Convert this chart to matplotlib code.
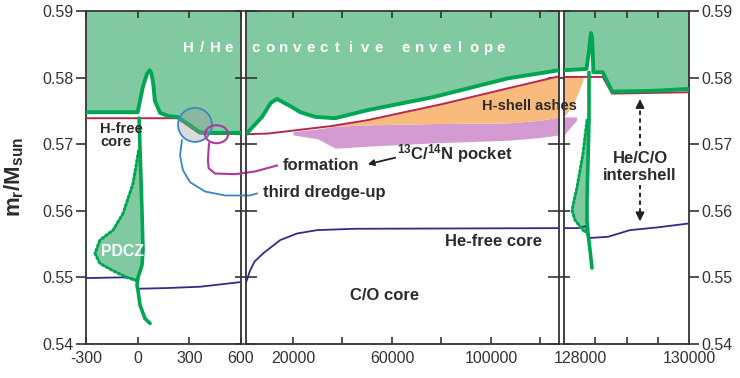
import numpy as np
import matplotlib.pyplot as plt
from matplotlib.patches import Ellipse
from matplotlib.transforms import ScaledTranslation

plt.rcParams['font.family'] = ['Liberation Sans', 'DejaVu Sans']
plt.rcParams['mathtext.fontset'] = 'custom'
plt.rcParams['mathtext.rm'] = 'Liberation Sans'
plt.rcParams['mathtext.bf'] = 'Liberation Sans:bold'
plt.rcParams['mathtext.it'] = 'Liberation Sans:italic'

# ---------------- panel 1 : around the thermal pulse ----------------
env1_x = [-300, 0, 30, 55, 70, 80, 90, 100, 130, 180, 230, 300, 360, 400, 600]
env1_y = [0.5748, 0.5748, 0.5786, 0.5806, 0.5811, 0.5806, 0.5792, 0.5765,
          0.5747, 0.5742, 0.5741, 0.5729, 0.5718, 0.5717, 0.5717]
hfree1_x = [-300, 230, 360, 600]
hfree1_y = [0.5739, 0.5739, 0.5716, 0.5715]
hefree1_x = [-300, -100, -60, -6, 2, 170, 362, 600]
hefree1_y = [0.5499, 0.5500, 0.5500, 0.5496, 0.5483, 0.5484, 0.5486, 0.5493]
pdcz1_out_x = [8, 14, 25, 31, 25, 2, -4, 2, 14, 43, 72]
pdcz1_out_y = [0.5739, 0.5691, 0.5600, 0.5541, 0.5518, 0.5500, 0.5488,
               0.5480, 0.5458, 0.5438, 0.5431]
pdcz1_in_x = [5, -17, -27, -85, -143, -219, -248, -219, -143, -62, -6]
pdcz1_in_y = [0.5690, 0.5656, 0.5641, 0.5596, 0.5571, 0.5556, 0.5536,
              0.5521, 0.5510, 0.5500, 0.5495]

# ---------------- panel 2 : interpulse ----------------
env2_x = [1000, 7500, 11000, 13500, 16000, 19000, 23000, 29000, 37000, 50000,
          77000, 107000, 127500]
env2_y = [0.5715, 0.5741, 0.5762, 0.5768, 0.5763, 0.5757, 0.5748, 0.5741,
          0.5739, 0.5751, 0.5771, 0.5799, 0.5811]
hfree2_x = [1000, 10000, 19000, 35000, 50000, 80000, 107000, 127500]
hfree2_y = [0.5715, 0.5716, 0.5720, 0.5727, 0.5736, 0.5760, 0.5784, 0.5802]
hefree2_x = [1000, 2600, 4500, 7900, 14800, 21700, 29800, 45000, 127500]
hefree2_y = [0.5492, 0.5510, 0.5524, 0.5536, 0.5556, 0.5566, 0.5571, 0.5573, 0.5574]
ashes_x = [25000, 35000, 50000, 77000, 107000, 120000, 127500]
ashes_lo = [0.5723, 0.5727, 0.5729, 0.5731, 0.5732, 0.5736, 0.5741]
pocket_x = [20000, 30000, 37000, 50000, 77000, 107000, 120000, 127500]
pocket_hi = [0.5719, 0.5723, 0.5727, 0.5729, 0.5731, 0.5732, 0.5736, 0.5741]
pocket_lo = [0.5714, 0.5708, 0.5694, 0.5697, 0.5702, 0.5706, 0.5710, 0.5714]

# ---------------- panel 3 : next pulse ----------------
env3_x = [128000, 128360, 128400, 128430, 128450, 128470, 128620, 128770, 129400, 130000]
env3_y = [0.5811, 0.5813, 0.5840, 0.5867, 0.5860, 0.5808, 0.5808, 0.5779, 0.5780, 0.5783]
hfree3_x = [128000, 128620, 128770, 130000]
hfree3_y = [0.5801, 0.5801, 0.5776, 0.5778]
hefree3_x = [128000, 128224, 128352, 128384, 128704, 129056, 129488, 130000]
hefree3_y = [0.5574, 0.5574, 0.5577, 0.5559, 0.5561, 0.5571, 0.5575, 0.5581]
pdcz3_out_x = [128400, 128400, 128384, 128368, 128368, 128384, 128416, 128448]
pdcz3_out_y = [0.5808, 0.5736, 0.5676, 0.5616, 0.5586, 0.5566, 0.5541, 0.5514]
pdcz3_in_x = [128368, 128304, 128208, 128128, 128176, 128304, 128384]
pdcz3_in_y = [0.5736, 0.5686, 0.5635, 0.5601, 0.5586, 0.5571, 0.5566]
ashes3_x = [128000, 128150, 128300]
ashes3_hi = [0.5801, 0.5801, 0.5801]
ashes3_lo = [0.5741, 0.5760, 0.5795]
pocket3_x = [128000, 128200]
pocket3_hi = [0.5741, 0.5741]
pocket3_lo = [0.5714, 0.5736]

ENV = '#80c9a1'
GREEN = '#00a651'
RED = '#b5284e'
NAVY = '#2e2d8c'
ORANGE = '#f8bb7c'
PINK = '#d39bd2'
DARK = '#2b2b2b'

W, H = 740, 378
fig = plt.figure(figsize=(W / 100, H / 100), dpi=100)


def px(x, y):
    return x / W, 1 - y / H


def add_panel(left, right):
    return fig.add_axes([left / W, 1 - 344 / H, (right - left) / W, 333 / H])


ax1 = add_panel(86, 241)
ax2 = add_panel(246, 559)
ax3 = add_panel(564, 689)

for ax in (ax1, ax2, ax3):
    ax.set_facecolor('none')
    ax.set_ylim(0.54, 0.59)
    ax.set_yticks(np.arange(0.54, 0.5901, 0.01))
    for s in ax.spines.values():
        s.set_linewidth(1.3)
        s.set_color('#333333')
    ax.tick_params(axis='x', direction='in', length=5, width=1.2, top=True,
                   labelsize=11.5, labelcolor='#333333', pad=5, color='#333333')
    ax.tick_params(axis='y', width=1.2, labelsize=11.5, labelcolor='#333333',
                   color='#333333', pad=2)

# panel 1
ax1.set_xlim(-300, 600)
ax1.set_xticks([-300, 0, 300, 600])
ax1.set_xticklabels(['-300', '0', '300', '600'])
ax1.tick_params(axis='y', direction='out', length=7, left=True, right=False)
ax1.set_yticklabels(['0.54', '0.55', '0.56', '0.57', '0.58', '0.59'])
ax1.fill_between(env1_x, env1_y, 0.59, color=ENV, lw=0, zorder=1)
ax1.plot(hfree1_x, hfree1_y, color=RED, lw=1.4, zorder=3)
ax1.plot(hefree1_x, hefree1_y, color=NAVY, lw=1.3, zorder=3)
poly_x = pdcz1_in_x + pdcz1_out_x[1:7][::-1]
poly_y = pdcz1_in_y + pdcz1_out_y[1:7][::-1]
ax1.fill(poly_x, poly_y, color=ENV, lw=0, zorder=2)
ax1.plot(pdcz1_in_x, pdcz1_in_y, color=GREEN, lw=2.2, ls=(0, (0.6, 0.9)),
         dash_capstyle='round', zorder=4)
ax1.plot(pdcz1_out_x, pdcz1_out_y, color=GREEN, lw=2.6, zorder=4,
         solid_capstyle='round')
ax1.plot(env1_x, env1_y, color=GREEN, lw=2.8, zorder=4, solid_capstyle='round')

# dredge-up / pocket markers
ax1.add_patch(Ellipse((333, 0.5729), 197, 0.00511, facecolor='#9a9a9a', alpha=0.35,
                      edgecolor='none', zorder=5))
ax1.add_patch(Ellipse((333, 0.5729), 197, 0.00511, facecolor='none',
                      edgecolor='#3a86c6', lw=1.3, zorder=6))
ax1.add_patch(Ellipse((458, 0.5715), 134, 0.0027, facecolor='none',
                      edgecolor='#b3359f', lw=1.5, zorder=6))
ax1.plot([257, 246, 263, 304, 391, 507, 652, 693],
         [0.5706, 0.5683, 0.5661, 0.5643, 0.5629, 0.5623, 0.5623, 0.5626],
         color='#3a86c6', lw=1.3, clip_on=False, zorder=6)
ax1.plot([414, 408, 412, 449, 565, 681, 809],
         [0.5701, 0.5676, 0.5664, 0.5656, 0.5655, 0.5659, 0.5668],
         color='#b3359f', lw=1.5, clip_on=False, zorder=6)

# panel 2
ax2.set_xlim(1000, 127500)
ax2.set_xticks([20000, 40000, 60000, 80000, 100000, 120000])
ax2.set_xticklabels(['20000', '', '60000', '', '100000', ''])
ax2.tick_params(axis='y', direction='inout', length=16, left=True, right=True,
                labelleft=False)
ax2.fill_between(env2_x, env2_y, 0.59, color=ENV, lw=0, zorder=1)
ax2.fill_between(pocket_x, pocket_lo, pocket_hi, color=PINK, lw=0, zorder=2)
ax2.fill_between(ashes_x, ashes_lo, np.interp(ashes_x, hfree2_x, hfree2_y),
                 color=ORANGE, lw=0, zorder=2)
ax2.plot(hfree2_x, hfree2_y, color=RED, lw=1.4, zorder=3)
ax2.plot(hefree2_x, hefree2_y, color=NAVY, lw=1.3, zorder=3)
ax2.plot(env2_x, env2_y, color=GREEN, lw=2.8, zorder=4, solid_capstyle='round')

# panel 3
ax3.set_xlim(128000, 130000)
ax3.set_xticks([128000, 130000])
ax3.set_xticklabels(['128000', '130000'])
ax3.set_xticks([128500, 129000, 129500], minor=True)
ax3.tick_params(axis='x', which='major', length=0)
ax3.tick_params(axis='x', which='minor', direction='in', length=5, width=1.2,
                top=True, color='#333333')
ax3.tick_params(axis='y', direction='out', length=7, left=False, right=True,
                labelleft=False, labelright=True)
ax3.set_yticklabels(['0.54', '0.55', '0.56', '0.57', '0.58', '0.59'])
ax3.fill_between(env3_x, env3_y, 0.59, color=ENV, lw=0, zorder=1)
ax3.fill_between(pocket3_x, pocket3_lo, pocket3_hi, color=PINK, lw=0, zorder=2)
ax3.fill_between(ashes3_x, ashes3_lo, ashes3_hi, color=ORANGE, lw=0, zorder=2)
ax3.plot(hfree3_x, hfree3_y, color=RED, lw=1.4, zorder=3)
ax3.plot(hefree3_x, hefree3_y, color=NAVY, lw=1.3, zorder=3)
poly3_x = pdcz3_in_x + pdcz3_out_x[1:6][::-1]
poly3_y = pdcz3_in_y + pdcz3_out_y[1:6][::-1]
ax3.fill(poly3_x, poly3_y, color=ENV, lw=0, zorder=2)
ax3.plot(pdcz3_in_x, pdcz3_in_y, color=GREEN, lw=2.2, ls=(0, (0.6, 0.9)),
         dash_capstyle='round', zorder=4)
ax3.plot(pdcz3_out_x, pdcz3_out_y, color=GREEN, lw=2.6, zorder=4,
         solid_capstyle='round')
ax3.plot(env3_x, env3_y, color=GREEN, lw=2.8, zorder=4, solid_capstyle='round')

# intershell dashed arrows
ax3.plot([129216, 129216], [0.5698, 0.5760], color='#222222', lw=1.4, ls=(0, (2.2, 1.8)))
ax3.annotate('', xy=(129216, 0.5772), xytext=(129216, 0.5755),
             arrowprops=dict(arrowstyle='-|>', color='#222222', lw=1.2,
                             mutation_scale=13))
ax3.plot([129216, 129216], [0.5638, 0.5592], color='#222222', lw=1.4, ls=(0, (2.2, 1.8)))
ax3.annotate('', xy=(129216, 0.5580), xytext=(129216, 0.5598),
             arrowprops=dict(arrowstyle='-|>', color='#222222', lw=1.2,
                             mutation_scale=13))

# shift the first panel-3 label a little to the right, as in the original
lab = ax3.get_xticklabels()[0]
lab.set_transform(lab.get_transform() + ScaledTranslation(0.16, 0, fig.dpi_scale_trans))

# ---------------- texts ----------------
fig.text(*px(14, 177), r'm$_\mathbf{r}$/M$_\mathbf{sun}$', rotation=90, fontsize=16,
         fontweight='bold', color=DARK, ha='center', va='center')

env_label = 'H/He convective envelope'
for i, ch in enumerate(env_label):
    fig.text(*px(188 + 13.6 * i, 48), ch, color='white', fontsize=10.8,
             fontweight='bold', ha='center', va='center')

fig.text(*px(100, 135.5), 'H-free\ncore', fontsize=10.5, fontweight='bold',
         color=DARK, ha='left', va='center', linespacing=0.95)
fig.text(*px(122, 252), 'PDCZ', fontsize=11.4, fontweight='bold', color='white',
         ha='center', va='center')
fig.text(*px(263, 193), 'third dredge-up', fontsize=12, fontweight='bold',
         color=DARK, ha='left', va='center')
fig.text(*px(283, 165), 'formation', fontsize=12, fontweight='bold',
         color=DARK, ha='left', va='center')
fig.text(*px(397, 154), r'$^{\mathbf{13}}$C/$^{\mathbf{14}}$N pocket', fontsize=12,
         fontweight='bold', color=DARK, ha='left', va='center')
fig.text(*px(482, 106), 'H-shell ashes', fontsize=10.5, fontweight='bold',
         color=DARK, ha='left', va='center')
fig.text(*px(542, 241), 'He-free core', fontsize=12, fontweight='bold',
         color=DARK, ha='right', va='center')
fig.text(*px(385, 295), 'C/O core', fontsize=12, fontweight='bold',
         color=DARK, ha='center', va='center')
fig.text(*px(640, 167), 'He/C/O\nintershell', fontsize=12, fontweight='bold',
         color=DARK, ha='center', va='center', linespacing=1.2)
ax2.annotate('', xy=px(365, 165), xytext=px(398, 157), xycoords='figure fraction',
             textcoords='figure fraction',
             arrowprops=dict(arrowstyle='-|>', color='#222222', lw=1.3,
                             mutation_scale=9))

fig.savefig('out.png', dpi=100)
